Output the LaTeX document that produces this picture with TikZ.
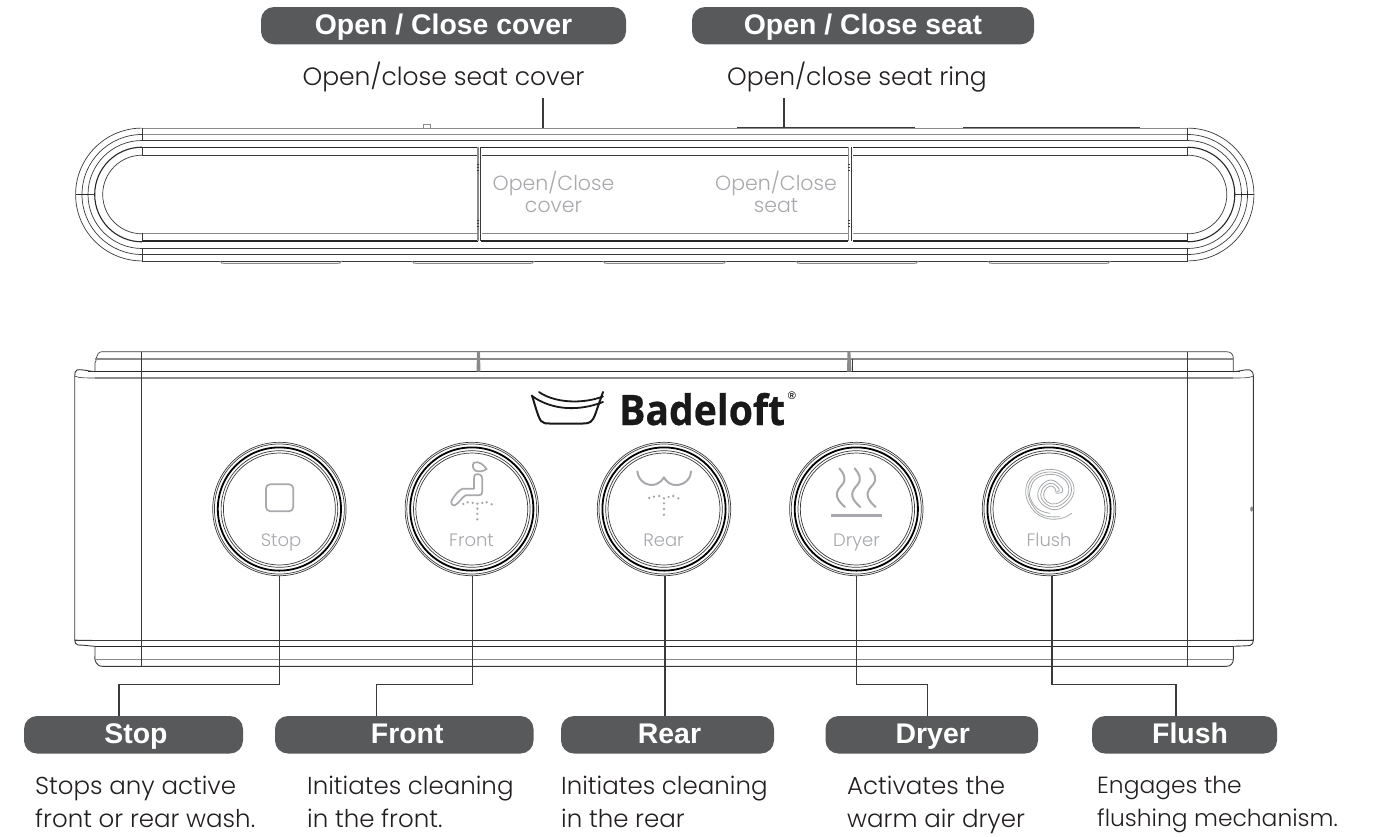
\documentclass[tikz,border=0pt]{standalone}
\usepackage{fontspec}
\setmainfont{Poppins}[UprightFont=* Light]
\newfontfamily\pillfont{Liberation Sans}[BoldFont=* Bold]
\newfontfamily\logofont{Open Sans}[BoldFeatures={FakeBold=0.6}]
\usetikzlibrary{calc}
\definecolor{pillgrey}{HTML}{58595B}
\definecolor{icongrey}{HTML}{A7A9AC}
\definecolor{inkline}{HTML}{3A3A3A}
\definecolor{softline}{HTML}{8A8A8A}
\definecolor{txt}{HTML}{231F20}
\tikzset{
  pill/.style={fill=pillgrey,text=white,rounded corners=13pt,inner sep=0pt,text height=24pt,text depth=6pt,font=\pillfont\bfseries\fontsize{28.4}{28}\selectfont},
  lbl/.style={font=\fontsize{24.5}{33}\selectfont,text=txt,align=left,anchor=north west,inner sep=0pt},
  toplbl/.style={font=\fontsize{25}{33}\selectfont,text=txt,inner sep=0pt},
  btxt/.style={font=\fontsize{18}{23}\selectfont,text=icongrey,inner sep=0pt,anchor=base},
  ptxt/.style={font=\fontsize{20.5}{22}\selectfont,text=icongrey,inner sep=0pt,align=center},
  conn/.style={draw=inkline,line width=1.1pt},
  thin/.style={draw=inkline,line width=.7pt},
  soft/.style={draw=softline,line width=1.1pt},
  dark/.style={draw=black!85,line width=1.1pt},
  icon/.style={draw=icongrey,line width=1.7pt,line cap=round,line join=round},
  btn/.style={circle,draw=inkline,line width=.7pt,minimum size=133.4pt,inner sep=0pt},
}
\newcommand{\btnrings}[1]{%
  \draw[thin] (#1) circle (65);
  \draw[draw=black,line width=1.8pt] (#1) circle (61.6);
  \draw[thin] (#1) circle (58.3);
  \draw[thin] (#1) circle (56);
}
\newcommand{\pillat}[6]{%
  \node[pill,minimum width=#4pt-#3pt,minimum height=#6pt-#5pt] (#1) at ({(#3+#4)/2},{(#5+#6)/2}) {#2};
}
\begin{document}
\begin{tikzpicture}[x=1pt,y=-1pt]
\useasboundingbox (0,0) rectangle (1380,836);
\fill[white] (0,0) rectangle (1380,836);

% ---------- top panel ----------
\foreach \r/\st in {66.4/thin,60/thin,54/thin,47.3/dark,39.3/thin}{
  \draw[\st] (142,{194.5-\r}) arc (-90:-270:\r);
  \draw[\st] (1187.5,{194.5-\r}) arc (-90:90:\r);
}
\draw[soft] (142,128.1) -- (1187.5,128.1);
\draw[soft] (142,134.5) -- (1187.5,134.5);
\draw[thin] (142,140.5) -- (1187.5,140.5);
\draw[dark] (142,147.2) -- (478,147.2);
\draw[dark] (852,147.2) -- (1187.5,147.2);
\draw[thin] (142,155.2) -- (1187.5,155.2);
\draw[soft] (142,233.2) -- (1187.5,233.2);
\draw[dark] (142,241) -- (1187.5,241);
\draw[thin] (142,248.5) -- (1187.5,248.5);
\draw[thin] (142,254.6) -- (1187.5,254.6);
\draw[thin] (142,260.9) -- (1187.5,260.9);
\foreach \xx in {142,1187.5}{
  \draw[thin] (\xx,128) -- (\xx,140.5);
  \draw[thin] (\xx,147) -- (\xx,155.2);
  \draw[thin] (\xx,233.2) -- (\xx,241);
  \draw[thin] (\xx,248.5) -- (\xx,261);
}
\draw[thin] (76,194.5) -- (95,194.5);
\draw[dark,line width=1.6pt] (78,194.5) -- (88.5,194.5);
\draw[thin] (1234,194.5) -- (1253.5,194.5);
\draw[dark,line width=1.6pt] (1241,194.5) -- (1252,194.5);
% dividers
\foreach \xa/\xb in {478/481,848.5/852}{
  \fill[white] (\xa-.5,146) rectangle (\xb+.5,242);
  \draw[softline,line width=1.6pt] (\xa,147) -- (\xa,241);
  \draw[thin,line width=.9pt] (\xb-.8,147) -- (\xb-.8,241);
  \foreach \yy in {164,167,170,220,223,226}{\draw[thin,line width=.5pt] (\xa-1,\yy) -- (\xa+1,\yy);}
}
\draw[dark] (481,147.2) -- (848,147.2);
\draw[dark] (481,241) -- (848,241);
% notch and tabs
\draw[softline,line width=.6pt] (423.5,128) -- (423.5,124.6) -- (430,124.6) -- (430,128);
\draw[inkline,line width=1pt] (737,127.3) -- (915,127.3);
\draw[inkline,line width=1pt] (963,127.3) -- (1140,127.3);
\foreach \xa/\xb in {220/341.5,412/534,603/726,796/918,988/1110}{
  \draw[softline,line width=1pt] (\xa,261) .. controls (\xa+1.5,263.3) .. (\xa+4,263.3) -- (\xb-4,263.3) .. controls (\xb-1.5,263.3) .. (\xb,261);
}
\node[ptxt] (tpcover) at (553.5,192) {Open/Close\\cover};
\node[ptxt] (tpseat) at (776,192) {Open/Close\\seat};

% ---------- bottom panel ----------
\draw[thin] (95,371) -- (95,363) .. controls (97,362) and (95,352) .. (102,351.7) -- (1226,351.7) .. controls (1231,351.7) and (1233,354) .. (1233.3,358) -- (1233.3,371);
\draw[soft] (95,359) -- (1233,359);
\draw[thin,line width=.9pt] (95,646.3) -- (95,655) .. controls (94,660) and (96,666.4) .. (103,666.4) -- (1226,666.4) .. controls (1231,666.4) and (1233.3,663) .. (1233.3,659) -- (1233.3,646.3);
\draw[soft] (95,659.3) -- (1233,659.3);
\draw[dark,line width=.9pt] (88,371.7) -- (1240,371.7);
\draw[soft] (95,378) -- (1233,378);
\draw[thin] (75,640.3) -- (1253,640.3);
\draw[dark,line width=.9pt] (95,646.3) -- (1233,646.3);
% body ends
\draw[thin,line width=.9pt] (95,371.7) .. controls (85,370.5) and (80,369) .. (77,370) .. controls (75,371) and (74.7,373) .. (74.7,376) -- (74.7,640) .. controls (74.7,643) and (76,644.5) .. (78,645) .. controls (83,645) and (90,646) .. (95,646.3);
\draw[thin,line width=.6pt] (74.7,376) .. controls (78,378) and (86,378) .. (95,378);
\draw[thin,line width=.6pt] (74.7,640) .. controls (78,640) and (86,640.3) .. (95,640.3);
\draw[thin,line width=.9pt] (1233,371.7) .. controls (1242,371) and (1246,369) .. (1250,370) .. controls (1252.5,371) and (1253.4,373) .. (1253.4,376) -- (1253.4,640) .. controls (1253.4,643) and (1252,645) .. (1250,645.5) .. controls (1245,646) and (1240,646) .. (1233,646.3);
\draw[thin,line width=.6pt] (1253.4,376) .. controls (1250,378) and (1242,378) .. (1233,378);
\draw[thin,line width=.6pt] (1253.4,640) .. controls (1250,640) and (1242,640.3) .. (1233,640.3);
\fill[softline] (1251.6,509) ellipse (1.4 and 2.6);
\draw[thin] (141,351.7) -- (141,666.3);
\draw[thin] (1187.3,351.7) -- (1187.3,666.3);
% top tab dividers
\foreach \xa/\xb in {477.5/480.5,848/851.5}{
  \fill[softline] (\xa-.6,352) -- (\xa+2.4,352) -- (\xb,371.5) -- (\xa-.9,371.5) -- cycle;
}
\draw[thin] (852,359) -- (852,371.5);

% ---------- logo ----------
\draw[black!90,line width=2pt,line cap=round,line join=round] (532,395.5) .. controls (535,405) and (538,417) .. (541,421) .. controls (543,423.5) and (546,423.5) .. (550,423.5) -- (583,423.5) .. controls (590,423.5) and (592,422) .. (595,415) -- (603,392);
\draw[black!90,line width=1.8pt,line cap=round] (532,396) .. controls (553,411) and (580,411) .. (603,402);
\draw[black!90,line width=1.8pt,line cap=round] (539,392) .. controls (553,402) and (580,405) .. (603,396.5);
\node[font=\logofont\bfseries\fontsize{42}{42}\selectfont,text=black!90,inner sep=0pt,anchor=base west] (logo) at (619,425) {\scalebox{.93}[1]{Badeloft}};
\node[font=\pillfont\bfseries\fontsize{11}{11}\selectfont,text=black!90,inner sep=0pt] (reg) at (792,396) {®};

% ---------- buttons ----------
\node[btn] (bstop) at (279.4,509) {};
\node[btn] (bfront) at (471.8,509) {};
\node[btn] (brear) at (664,509) {};
\node[btn] (bdryer) at (856.3,509) {};
\node[btn] (bflush) at (1049,509) {};
\btnrings{bstop}\btnrings{bfront}\btnrings{brear}\btnrings{bdryer}\btnrings{bflush}
\node[btxt] (tstop) at (281,546.5) {Stop};
\node[btxt] (tfront) at (471.5,546.5) {Front};
\node[btxt] (trear) at (663.5,546.5) {Rear};
\node[btxt] (tdryer) at (856.5,546.5) {Dryer};
\node[btxt] (tflush) at (1049,546.5) {Flush};

% icons
\draw[icon,rounded corners=4pt] (266,484.3) rectangle (293.2,511.2);
\begin{scope}[shift={(400,380)},x=.3333pt,y=-.3333pt]
  % front
  \draw[icon] (226,284) .. controls (235,280) and (247,283) .. (247,298) -- (247,335) .. controls (247,343) and (243,346) .. (235,346) -- (197,346) .. controls (185,352) and (178,368) .. (165,376) .. controls (155,378) and (150,368) .. (157,358) .. controls (165,345) and (175,332) .. (188,326) -- (222,326) -- (222,296) .. controls (222,290) and (223,286) .. (226,284);
  \draw[icon] (222,248) .. controls (238,242) and (250,255) .. (260,267) .. controls (250,275) and (235,276) .. (226,272) .. controls (218,266) and (216,254) .. (222,248);
  \foreach \p in {(190,372),(203,367),(218,369),(232,371),(247,369),(260,367),(275,373),(232,386),(232,402),(232,418)}{\fill[icongrey] \p circle (4);}
  % rear
  \draw[icon,line width=2pt] (712,274) .. controls (715,305) and (745,322) .. (770,312) .. controls (780,308) and (788,300) .. (792,292) .. controls (796,300) and (805,310) .. (818,314) .. controls (845,320) and (872,302) .. (873,274);
  \foreach \p in {(748,354),(762,350),(778,348),(792,355),(806,351),(820,348),(835,355),(792,370),(792,387),(792,404)}{\fill[icongrey] \p circle (4);}
\end{scope}
\begin{scope}[shift={(780,430)},x=.3333pt,y=-.3333pt]
  % dryer
  \foreach \dx in {0,46,92}{
    \draw[icon,line width=2pt] (178+\dx,115) .. controls (190+\dx,130) and (202+\dx,145) .. (186+\dx,165) .. controls (170+\dx,182) and (158+\dx,200) .. (195+\dx,231);
  }
  \draw[icongrey,line width=2.4pt] (153,256) -- (307,256);
\end{scope}
\begin{scope}[shift={(1010,460)},x=.3333pt,y=-.3333pt]
  % flush
  \draw[icongrey,line width=.8pt,line cap=round] plot[smooth,tension=.7] coordinates {(185,160) (150,176) (100,172) (62,140) (47,90) (70,45) (125,28) (175,50) (192,95) (165,137) (125,148) (88,122) (88,85) (120,60) (150,76) (158,95) (138,100)};
  \draw[icongrey,line width=.8pt,line cap=round] plot[smooth,tension=.7] coordinates {(150,170) (100,166) (67,135) (54,90) (75,50) (125,36) (170,55) (184,95) (160,130) (125,140) (96,118) (96,88) (120,70) (140,78) (148,92) (135,96)};
  \draw[icongrey,line width=.8pt,line cap=round] plot[smooth,tension=.7] coordinates {(120,160) (85,148) (61,115) (62,85) (80,55) (125,43) (165,60) (176,95) (155,123) (125,132) (103,115) (104,92) (120,78) (135,85) (136,92)};
\end{scope}

% ---------- pills ----------
\pillat{pcover}{Open / Close cover}{261}{626}{7}{44.3}
\pillat{pseat}{Open / Close seat}{692}{1034}{7}{44.3}
\pillat{pstop}{\kern5pt Stop}{24}{243}{716}{753.5}
\pillat{pfront}{\kern6pt Front}{275}{533.5}{716}{753.5}
\pillat{prear}{\kern4pt Rear}{561}{774}{716}{753.5}
\pillat{pdryer}{\kern2pt Dryer}{825.5}{1038}{716}{753.5}
\pillat{pflush}{\kern11pt Flush}{1092}{1277}{716}{753.5}

% ---------- labels ----------
\node[toplbl] (lcover) at (443.5,77) {Open/close seat cover};
\node[toplbl] (lseat) at (857,77) {Open/close seat ring};
\node[lbl] (dstop) at (35,776) {Stops any active\\front or rear wash.};
\node[lbl] (dfront) at (307,776) {Initiates cleaning\\in the front.};
\node[lbl] (drear) at (561,776) {Initiates cleaning\\in the rear};
\node[lbl] (ddryer) at (847,776) {Activates the\\warm air dryer};
\node[lbl,font=\fontsize{23.4}{33}\selectfont] (dflush) at (1097,776) {Engages the\\flushing mechanism.};

% ---------- connectors ----------
\coordinate (ctop) at (543,98);\coordinate (cbot) at (543,127.5);
\coordinate (stop2) at (784,98);\coordinate (sbot) at (784,127);
\draw[conn] (ctop) -- (cbot);
\draw[conn] (stop2) -- (sbot);
\coordinate (jstop) at (119,684.5);
\coordinate (jfront) at (376.5,684.5);
\coordinate (jdryer) at (927.5,684.5);
\coordinate (jflush) at (1176,684.5);
\draw[conn] (bstop.-90) |- (jstop) -- (jstop |- pstop.north);
\draw[conn] ($(bfront.south)+(1,0)$) |- (jfront) -- (jfront |- pfront.north);
\draw[conn,line width=1.3pt] ($(brear.south)+(1,0)$) -- ($(prear.north west)!(brear.south)!(prear.north east)+(1,0)$);
\draw[conn] (bdryer.south) |- (jdryer) -- (jdryer |- pdryer.north);
\draw[conn] ($(bflush.south)+(3,0)$) |- (jflush) -- (jflush |- pflush.north);
\end{tikzpicture}
\end{document}
